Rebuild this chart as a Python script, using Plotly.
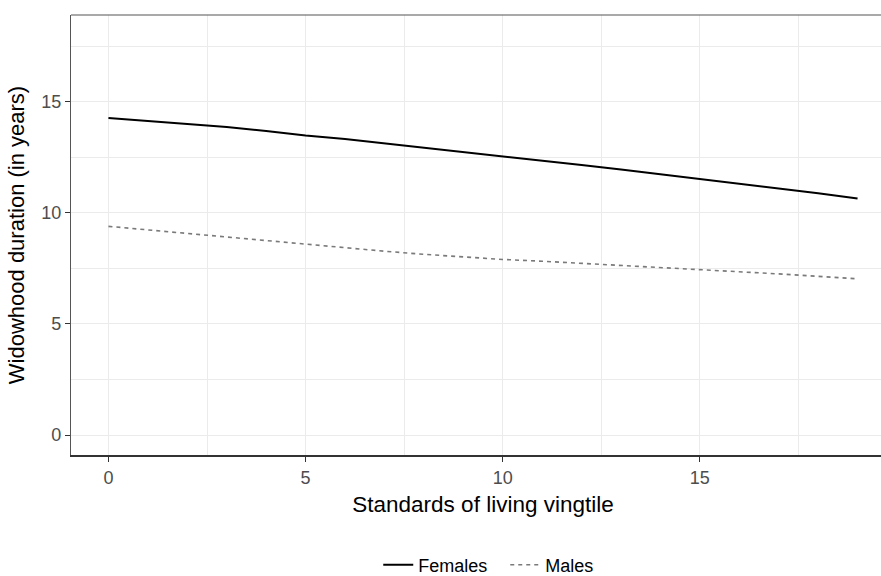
import plotly.graph_objects as go

vingtile = list(range(20))
females = [14.27, 14.13, 14.00, 13.86, 13.68, 13.48, 13.32, 13.13, 12.93, 12.74,
           12.54, 12.35, 12.15, 11.95, 11.74, 11.52, 11.32, 11.11, 10.88, 10.64]
males = [9.39, 9.23, 9.07, 8.89, 8.73, 8.57, 8.42, 8.27, 8.13, 8.00,
         7.90, 7.82, 7.73, 7.62, 7.53, 7.44, 7.35, 7.25, 7.14, 7.03]
x_ticks = [0, 5, 10, 15]
y_ticks = [0, 5, 10, 15]

FONT = "Liberation Sans, Arial, sans-serif"

fig = go.Figure()
fig.add_trace(go.Scatter(x=vingtile, y=females, mode="lines", name="Females",
                         line=dict(color="black", width=2)))
fig.add_trace(go.Scatter(x=vingtile, y=males, mode="lines", name="Males",
                         line=dict(color="#7a7a7a", width=1.6, dash="4px,4px")))

# The original panel runs past the right edge of the 881px frame, so the figure is
# slightly wider than the window and the page body is set not to scroll.
fig.update_layout(
    width=900, height=600,
    margin=dict(l=71, r=5, t=15, b=145),
    paper_bgcolor="white", plot_bgcolor="white",
    font=dict(family=FONT, color="black"),
    showlegend=True,
    legend=dict(orientation="h", x=0.527, xanchor="center", y=-0.250, yanchor="middle",
                font=dict(size=18, color="black"), itemwidth=30, entrywidth=82,
                traceorder="normal"),
    shapes=[dict(type="line", xref="paper", yref="paper", x0=0, x1=1, y0=1, y1=1,
                 line=dict(color="#555555", width=1.2))],
)
fig.update_xaxes(
    range=[-0.95, 19.95], tickvals=x_ticks, ticktext=[str(v) for v in x_ticks],
    showgrid=True, gridcolor="#EBEBEB", gridwidth=1.2,
    minor=dict(dtick=2.5, tick0=0, showgrid=True, gridcolor="#EBEBEB", gridwidth=0.6),
    zeroline=False,
    showline=True, linecolor="#333333", linewidth=2, mirror=False,
    ticks="outside", ticklen=5, tickwidth=1.3, tickcolor="#333333",
    tickfont=dict(size=18, color="#4D4D4D", family=FONT),
    title=dict(text="Standards of living vingtile", font=dict(size=22.5, color="black", family=FONT), standoff=10),
    automargin=False,
)
fig.update_yaxes(
    range=[-0.9, 18.9], tickvals=y_ticks, ticktext=[str(v) for v in y_ticks],
    showgrid=True, gridcolor="#EBEBEB", gridwidth=1.2,
    minor=dict(dtick=2.5, tick0=0, showgrid=True, gridcolor="#EBEBEB", gridwidth=0.6),
    zeroline=False,
    showline=True, linecolor="#555555", linewidth=1.2, mirror=True,
    ticks="outside", ticklen=5, tickwidth=1.3, tickcolor="#333333",
    tickfont=dict(size=18, color="#4D4D4D", family=FONT),
    title=dict(text="Widowhood duration (in years)", font=dict(size=22, color="black", family=FONT), standoff=10),
    automargin=False,
)

fig.write_html(
    "out.html",
    config={"displayModeBar": False},
    post_script="document.body.style.margin='0';document.body.style.overflow='hidden';",
)
